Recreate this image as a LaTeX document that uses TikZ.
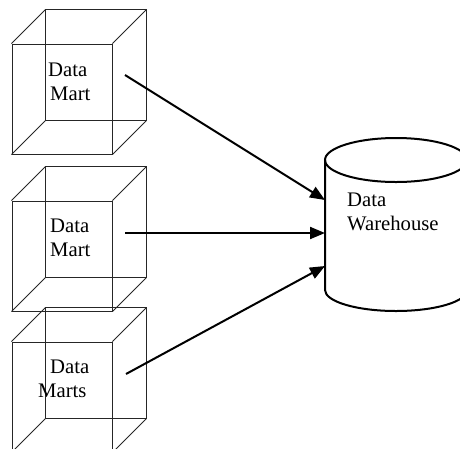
\documentclass[tikz,border=0pt]{standalone}
\usepackage{fontspec}
\setmainfont{Liberation Serif}
\usetikzlibrary{arrows.meta}
\tikzset{
  wire/.style={line width=1pt, draw=black!85},
  cubefront/.style={wire, rectangle, minimum width=100pt, minimum height=110pt, inner sep=0pt},
  % multi-line labels: placed by the baseline of their last line
  lbl/.style={anchor=base west, inner sep=0pt, align=left,
              font=\fontsize{20.7}{24}\selectfont},
  bold/.style={line width=2pt, draw=black},
  flow/.style={bold, -{Triangle[length=15pt,width=12pt]}}
}
% a wire-frame cube: front face node #1 centred at #2, back face offset by (34,-34)
\newcommand{\wirecube}[2]{%
  \node[cubefront] (#1) at #2 {};
  \draw[wire] ([shift={(34,-34)}]#1.north west) rectangle ([shift={(34,-34)}]#1.south east);
  \foreach \c in {north west,north east,south west,south east}
    \draw[wire] (#1.\c) -- ([shift={(34,-34)}]#1.\c);
}
\begin{document}
\begin{tikzpicture}[x=1pt, y=-1pt]
  \useasboundingbox (0,0) rectangle (460,448);
  \clip (0,0) rectangle (460,448);

  % three data marts
  \wirecube{m1}{(62,99)}
  \wirecube{m2}{(62,256)}
  \wirecube{m3}{(62,397)}
  \node[lbl] (t1) at (48,100) {Data\\\hspace*{2pt}Mart};
  \node[lbl] (t2) at (50,256) {Data\\Mart};
  \node[lbl] (t3) at (50,397) {Data\\\hspace*{-12pt}Marts};

  % the warehouse cylinder
  \draw[bold] (396,160) ellipse [x radius=71, y radius=22];
  \draw[bold] (325,160) -- (325,290) arc [start angle=180, end angle=0, x radius=71, y radius=21] -- (467,160);
  \node[lbl] (wh) at (347,230) {Data\\Warehouse};

  % connector end points
  \coordinate (s1) at (125,75);
  \coordinate (s2) at (125,233);
  \coordinate (s3) at (126,374);
  \coordinate (e1) at (325,200);
  \coordinate (e2) at (325,233);
  \coordinate (e3) at (325,266);

  \draw[flow] (s1) -- (e1);
  \draw[flow] (s2) -- (e2);
  \draw[flow] (s3) -- (e3);
\end{tikzpicture}
\end{document}
